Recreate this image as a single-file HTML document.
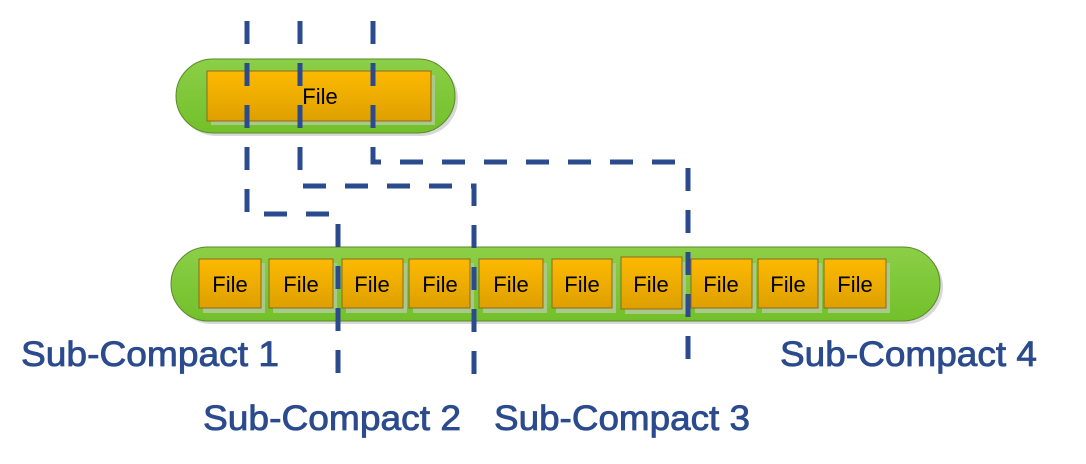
<!DOCTYPE html>
<html><head><meta charset="utf-8"><style>html,body{margin:0;padding:0;background:#fff}svg{display:block}</style></head>
<body>
<svg width="1086" height="464" viewBox="0 0 1086 464" xmlns="http://www.w3.org/2000/svg" font-family="Liberation Sans, sans-serif">
<defs>
<linearGradient id="g" x1="0" y1="0" x2="0" y2="1"><stop offset="0" stop-color="#8ccf48"/><stop offset="1" stop-color="#72c02a"/></linearGradient>
<linearGradient id="o" x1="0" y1="0" x2="0" y2="1"><stop offset="0" stop-color="#fdb900"/><stop offset="1" stop-color="#dea000"/></linearGradient>
</defs>
<rect x="179" y="62" width="279" height="74" rx="37" fill="#d8d8d8"/>
<rect x="176" y="59" width="279" height="74" rx="37" fill="url(#g)" stroke="#5a8a2a" stroke-width="1"/>
<rect x="211" y="75" width="224" height="50" fill="#a9c98a"/>
<rect x="207" y="71" width="224" height="50" fill="url(#o)" stroke="#8a6a20" stroke-width="1"/>
<text x="320" y="104" font-size="22" text-anchor="middle" fill="#000">File</text>

<rect x="174" y="250" width="769" height="74" rx="37" fill="#d8d8d8"/>
<rect x="171" y="247" width="769" height="74" rx="37" fill="url(#g)" stroke="#5a8a2a" stroke-width="1"/>
<g fill="#a9c98a">
<rect x="203" y="263" width="62" height="50"/><rect x="273" y="263" width="64" height="50"/><rect x="346" y="263" width="61" height="50"/><rect x="413" y="263" width="61" height="50"/><rect x="483" y="263" width="64" height="50"/><rect x="556" y="263" width="60" height="50"/><rect x="625" y="262" width="61" height="52"/><rect x="695" y="263" width="61" height="50"/><rect x="762" y="263" width="60" height="50"/><rect x="828" y="263" width="62" height="50"/>
</g>
<g fill="url(#o)" stroke="#8a6a20" stroke-width="1">
<rect x="199" y="259" width="62" height="49"/><rect x="269" y="259" width="64" height="49"/><rect x="342" y="259" width="61" height="49"/><rect x="409" y="259" width="61" height="49"/><rect x="479" y="259" width="64" height="49"/><rect x="552" y="259" width="60" height="49"/><rect x="621" y="257" width="61" height="52"/><rect x="691" y="259" width="61" height="49"/><rect x="758" y="259" width="60" height="49"/><rect x="824" y="259" width="62" height="49"/>
</g>
<g font-size="22" text-anchor="middle" fill="#000">
<text x="230" y="292">File</text><text x="301" y="292">File</text><text x="372" y="292">File</text><text x="440" y="292">File</text><text x="511" y="292">File</text><text x="582" y="292">File</text><text x="651" y="292">File</text><text x="721" y="292">File</text><text x="788" y="292">File</text><text x="855" y="292">File</text>
</g>
<g fill="none" stroke="#2b4b8e" stroke-width="5" stroke-dasharray="23 19">
<polyline points="247,21 247,214 338,214 338,374"/>
<polyline points="300,21 300,186 474,186 474,375"/>
<polyline points="373,21 373,162 688,162 688,362"/>
</g>
<g font-size="35" fill="#2b4b8e" stroke="#2b4b8e" stroke-width="0.8">
<text x="21" y="366" textLength="258" lengthAdjust="spacingAndGlyphs">Sub-Compact 1</text>
<text x="203" y="430" textLength="258" lengthAdjust="spacingAndGlyphs">Sub-Compact 2</text>
<text x="494" y="430" textLength="256" lengthAdjust="spacingAndGlyphs">Sub-Compact 3</text>
<text x="780" y="366" textLength="257" lengthAdjust="spacingAndGlyphs">Sub-Compact 4</text>
</g>
</svg>
</body></html>
